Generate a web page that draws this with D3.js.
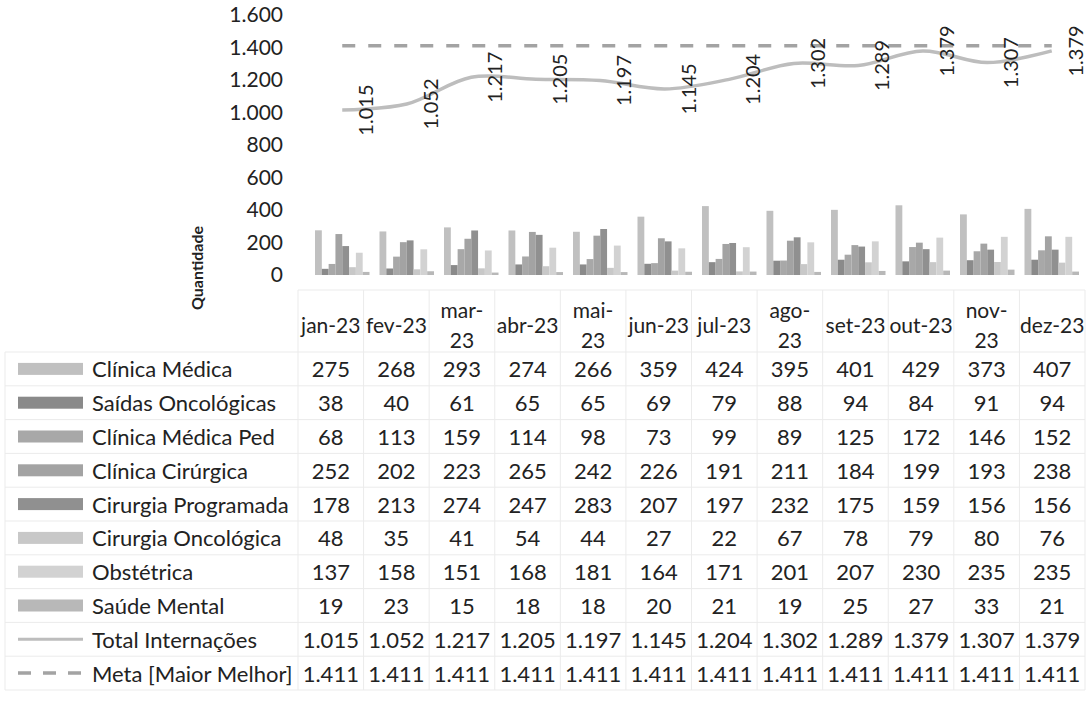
<!DOCTYPE html>
<html>
<head>
<meta charset="utf-8">
<script src="https://cdn.jsdelivr.net/npm/d3@7"></script>
<style>
  html, body { margin: 0; padding: 0; background: #fff; }
  svg { display: block; }
  text { font-family: Lato, "Liberation Sans", sans-serif; fill: #222; }
</style>
</head>
<body>
<svg id="chart" width="1088" height="712"></svg>
<script>
// ---------- DATA ----------
const months = ["jan-23","fev-23","mar-23","abr-23","mai-23","jun-23","jul-23","ago-23","set-23","out-23","nov-23","dez-23"];
const seriesNames = ["Clínica Médica","Saídas Oncológicas","Clínica Médica Ped","Clínica Cirúrgica","Cirurgia Programada","Cirurgia Oncológica","Obstétrica","Saúde Mental"];
const clinicaMedica      = [275,268,293,274,266,359,424,395,401,429,373,407];
const saidasOncologicas  = [38,40,61,65,65,69,79,88,94,84,91,94];
const clinicaMedicaPed   = [68,113,159,114,98,73,99,89,125,172,146,152];
const clinicaCirurgica   = [252,202,223,265,242,226,191,211,184,199,193,238];
const cirurgiaProgramada = [178,213,274,247,283,207,197,232,175,159,156,156];
const cirurgiaOncologica = [48,35,41,54,44,27,22,67,78,79,80,76];
const obstetrica         = [137,158,151,168,181,164,171,201,207,230,235,235];
const saudeMental        = [19,23,15,18,18,20,21,19,25,27,33,21];
const totalInternacoes   = [1015,1052,1217,1205,1197,1145,1204,1302,1289,1379,1307,1379];
const meta               = [1411,1411,1411,1411,1411,1411,1411,1411,1411,1411,1411,1411];
const yTicks = [0,200,400,600,800,1000,1200,1400,1600];
const totalName = "Total Internações";
const metaName = "Meta [Maior Melhor]";
const axisTitle = "Quantidade";

// ---------- STYLE ----------
const barValues = [clinicaMedica, saidasOncologicas, clinicaMedicaPed, clinicaCirurgica, cirurgiaProgramada, cirurgiaOncologica, obstetrica, saudeMental];
const barColors = ["#c0c0c0","#8a8a8a","#a8a8a8","#a3a3a3","#909090","#c8c8c8","#d2d2d2","#b8b8b8"];
const wrapped = new Set(["mar-23","mai-23","ago-23","nov-23"]);
const FS = 22;

const svg = d3.select("#chart");
const loc = d3.formatLocale({decimal: ",", thousands: ".", grouping: [3], currency: ["R$", ""]});
const fmt = loc.format(",");

// scales
const x = d3.scaleBand().domain(months).range([310, 1084]).padding(0);
const x1 = d3.scaleBand().domain(seriesNames).range([5, x.bandwidth() - 5]).padding(0);
const y = d3.scaleLinear().domain([0, 1600]).range([275, 15]);
const tx = d3.scaleBand().domain(months).range([298, 1085]).padding(0);
const rowNames = seriesNames.concat([totalName, metaName]);
const ry = d3.scaleBand().domain(rowNames).range([352, 690]).padding(0);

// y axis labels
const yAxis = d3.axisLeft(y).tickValues(yTicks).tickFormat(fmt).tickSize(0).tickPadding(0);
const ya = svg.append("g").attr("transform", "translate(283,0)").call(yAxis);
ya.select(".domain").remove();
ya.selectAll("text").style("font-family", "Lato, sans-serif").style("font-size", "21px").attr("fill", "#222");

// axis title
svg.append("text")
  .attr("transform", "translate(203,268) rotate(-90)")
  .attr("text-anchor", "middle")
  .style("font-size", "16px").style("font-weight", "bold")
  .text(axisTitle);

// bars
const groups = svg.append("g").selectAll("g").data(months).join("g")
  .attr("transform", d => `translate(${x(d)},0)`);
groups.selectAll("rect").data((m, i) => seriesNames.map((s, k) => ({s, k, v: barValues[k][i]})))
  .join("rect")
  .attr("x", d => x1(d.s))
  .attr("width", x1.bandwidth())
  .attr("y", d => y(d.v))
  .attr("height", d => y(0) - y(d.v))
  .attr("fill", d => barColors[d.k]);

const cx = m => x(m) + x.bandwidth() / 2;

// meta line
svg.append("path")
  .datum(meta)
  .attr("fill", "none").attr("stroke", "#a3a3a3").attr("stroke-width", 3.5)
  .attr("stroke-dasharray", "13,13")
  .attr("d", d3.line().x((d, i) => cx(months[i])).y(d => y(d)));

// total line
svg.append("path")
  .datum(totalInternacoes)
  .attr("fill", "none").attr("stroke", "#bdbdbd").attr("stroke-width", 3.5)
  .attr("d", d3.line().x((d, i) => cx(months[i])).y(d => y(d)).curve(d3.curveCatmullRom));

// data labels
svg.append("g").selectAll("text").data(totalInternacoes).join("text")
  .attr("transform", (d, i) => `translate(${cx(months[i]) + 23},${y(d)}) rotate(-90)`)
  .attr("text-anchor", "middle").attr("dominant-baseline", "central")
  .style("font-size", "20px")
  .text(d => fmt(d));

// ---------- DATA TABLE ----------
const grid = svg.append("g").attr("stroke", "#ebebeb").attr("stroke-width", 1);
[290].concat(rowNames.map(r => ry(r))).concat([690]).forEach((yy, idx) => {
  grid.append("line").attr("x1", idx === 0 ? 298 : 5).attr("x2", 1085).attr("y1", yy).attr("y2", yy);
});
months.forEach(m => grid.append("line").attr("x1", tx(m)).attr("x2", tx(m)).attr("y1", 290).attr("y2", 690));
grid.append("line").attr("x1", 1085).attr("x2", 1085).attr("y1", 290).attr("y2", 690);
grid.append("line").attr("x1", 5).attr("x2", 5).attr("y1", 352).attr("y2", 690);

// header
const hdr = svg.append("g").selectAll("text").data(months).join("text")
  .attr("text-anchor", "middle")
  .style("font-size", "21px");
hdr.each(function(m) {
  const t = d3.select(this);
  const c = tx(m) + tx.bandwidth() / 2;
  if (wrapped.has(m)) {
    const parts = m.split("-");
    t.append("tspan").attr("x", c).attr("y", 309).attr("dominant-baseline", "central").text(parts[0] + "-");
    t.append("tspan").attr("x", c).attr("y", 339).attr("dominant-baseline", "central").text(parts[1]);
  } else {
    t.attr("x", c).attr("y", 324).attr("dominant-baseline", "central").text(m);
  }
});

// rows
const rowData = barValues.concat([totalInternacoes, meta]);
rowNames.forEach((name, r) => {
  const yc = ry(name) + ry.bandwidth() / 2;
  if (r < seriesNames.length) {
    svg.append("rect").attr("x", 18).attr("y", yc - 6).attr("width", 65).attr("height", 12).attr("fill", barColors[r]);
  } else if (name === totalName) {
    svg.append("line").attr("x1", 18).attr("x2", 83).attr("y1", yc).attr("y2", yc)
      .attr("stroke", "#bdbdbd").attr("stroke-width", 3);
  } else {
    svg.append("line").attr("x1", 18).attr("x2", 83).attr("y1", yc).attr("y2", yc)
      .attr("stroke", "#a3a3a3").attr("stroke-width", 3.5).attr("stroke-dasharray", "13,12");
  }
  svg.append("text").attr("x", 92).attr("y", yc).attr("dominant-baseline", "central")
    .style("font-size", FS + "px").text(name);
  svg.append("g").selectAll("text").data(rowData[r]).join("text")
    .attr("x", (d, i) => tx(months[i]) + tx.bandwidth() / 2)
    .attr("y", yc)
    .attr("text-anchor", "middle").attr("dominant-baseline", "central")
    .style("font-size", FS + "px")
    .text(d => fmt(d));
});
</script>
</body>
</html>
